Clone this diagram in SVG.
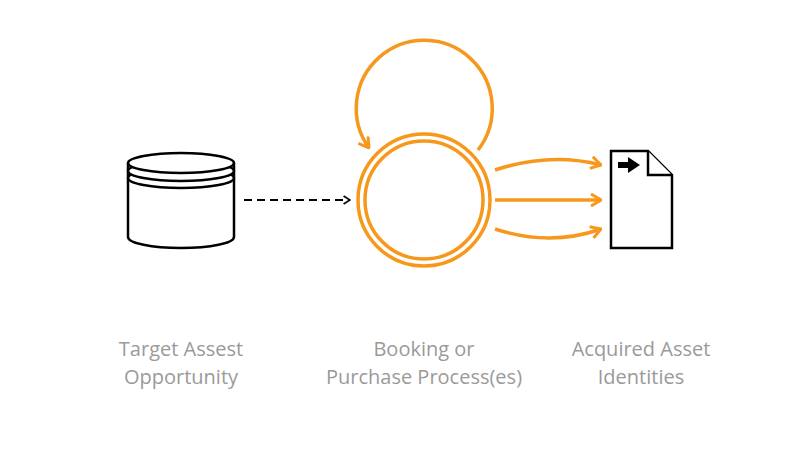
<svg xmlns="http://www.w3.org/2000/svg" width="800" height="455" viewBox="0 0 800 455">
<style>
.k{fill:#fff;stroke:#000;stroke-width:2.5}
.o{fill:none;stroke:#f7981d;stroke-width:3.5}
text{font-family:"Open Sans","Noto Sans",sans-serif;font-size:20px;fill:#9a9a9a;text-anchor:middle}
</style>
<defs>
<marker id="oa" viewBox="0 0 12 14" refX="11" refY="7" markerWidth="12" markerHeight="14" markerUnits="userSpaceOnUse" orient="auto"><path d="M1,1 L11,7 L1,13" fill="none" stroke="#f7981d" stroke-width="3"/></marker>
<marker id="ka" viewBox="0 0 10 12" refX="9" refY="6" markerWidth="8" markerHeight="10" markerUnits="userSpaceOnUse" orient="auto"><path d="M1,1 L9,6 L1,11" fill="none" stroke="#000" stroke-width="2"/></marker>
</defs>
<rect width="800" height="455" fill="#fff"/>
<g id="target">
<path class="k" d="M128,163 V237 A53,11 0 0 0 234,237 V163"/>
<ellipse class="k" cx="181" cy="178" rx="53" ry="10"/>
<ellipse class="k" cx="181" cy="171" rx="53" ry="10"/>
<ellipse class="k" cx="181" cy="163" rx="53" ry="10"/>
</g>
<g id="process">
<circle cx="424" cy="200" r="66" fill="none" stroke="#f7981d" stroke-width="3.5"/>
<circle cx="424" cy="200" r="59" fill="none" stroke="#f7981d" stroke-width="3.5"/>
</g>
<g id="identities">
<path class="k" d="M611,151 H648 L672,175 V248 H611 Z"/>
<path class="k" d="M648,151 V175 H672" fill="none"/>
<path d="M618,162 H628 V157 L640,165 L628,173 V168 H618 Z" fill="#000"/>
</g>
<g id="connectors">
<path d="M244,200 H350" stroke="#000" stroke-width="2" stroke-dasharray="8,5" fill="none" marker-end="url(#ka)"/>
<path class="o" d="M478,150 A68,68 0 1 0 369,148" marker-end="url(#oa)"/>
<path class="o" d="M495,170 Q550,152 601,165" marker-end="url(#oa)"/>
<path class="o" d="M495,200 H601" marker-end="url(#oa)"/>
<path class="o" d="M495,229 Q550,247 601,229" marker-end="url(#oa)"/>
</g>
<g id="labels">
<text x="181" y="356">Target Assest</text>
<text x="181" y="384">Opportunity</text>
<text x="424" y="356">Booking or</text>
<text x="424" y="384">Purchase Process(es)</text>
<text x="641" y="356">Acquired Asset</text>
<text x="641" y="384">Identities</text>
</g>
</svg>
